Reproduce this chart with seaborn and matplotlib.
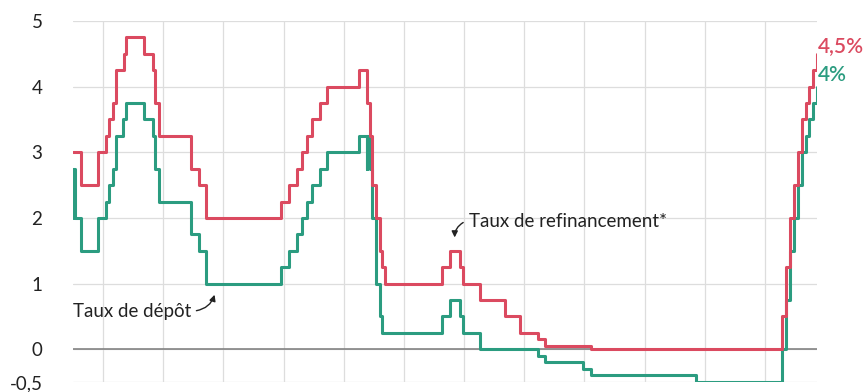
import matplotlib
matplotlib.use("Agg")
import matplotlib.pyplot as plt
import matplotlib.dates as mdates
import pandas as pd
import seaborn as sns

# ECB key interest rates (%), effective dates of each change
refi_dates = ["1999-01-01", "1999-04-09", "1999-11-05", "2000-02-04", "2000-03-17",
              "2000-04-28", "2000-06-09", "2000-09-06", "2000-10-11", "2001-05-11",
              "2001-08-31", "2001-09-18", "2001-11-09", "2002-12-06", "2003-03-07",
              "2003-06-06", "2005-12-06", "2006-03-08", "2006-06-15", "2006-08-09",
              "2006-10-11", "2006-12-13", "2007-03-14", "2007-06-13", "2008-07-09",
              "2008-10-15", "2008-11-12", "2008-12-10", "2009-01-21", "2009-03-11",
              "2009-04-08", "2009-05-13", "2011-04-13", "2011-07-13", "2011-11-09",
              "2011-12-14", "2012-07-11", "2013-05-08", "2013-11-13", "2014-06-11",
              "2014-09-10", "2016-03-16", "2022-07-27", "2022-09-14", "2022-11-02",
              "2022-12-21", "2023-02-08", "2023-03-22", "2023-05-10", "2023-06-21",
              "2023-08-02", "2023-09-20", "2023-09-25"]
refi_rates = [3.00, 2.50, 3.00, 3.25, 3.50, 3.75, 4.25, 4.50, 4.75, 4.50,
              4.25, 3.75, 3.25, 2.75, 2.50, 2.00, 2.25, 2.50, 2.75, 3.00,
              3.25, 3.50, 3.75, 4.00, 4.25, 3.75, 3.25, 2.50, 2.00, 1.50,
              1.25, 1.00, 1.25, 1.50, 1.25, 1.00, 0.75, 0.50, 0.25, 0.15,
              0.05, 0.00, 0.50, 1.25, 2.00, 2.50, 3.00, 3.50, 3.75, 4.00,
              4.25, 4.50, 4.50]

depo_dates = ["1999-01-01", "1999-01-04", "1999-01-22", "1999-04-09", "1999-11-05",
              "2000-02-04", "2000-03-17", "2000-04-28", "2000-06-09", "2000-09-01",
              "2000-10-06", "2001-05-11", "2001-08-31", "2001-09-18", "2001-11-09",
              "2002-12-06", "2003-03-07", "2003-06-06", "2005-12-06", "2006-03-08",
              "2006-06-15", "2006-08-09", "2006-10-11", "2006-12-13", "2007-03-14",
              "2007-06-13", "2008-07-09", "2008-10-08", "2008-10-09", "2008-11-12",
              "2008-12-10", "2009-01-21", "2009-03-11", "2009-04-08", "2011-04-13",
              "2011-07-13", "2011-11-09", "2011-12-14", "2012-07-11", "2014-06-11",
              "2014-09-10", "2015-12-09", "2016-03-16", "2019-09-18", "2022-07-27",
              "2022-09-14", "2022-11-02", "2022-12-21", "2023-02-08", "2023-03-22",
              "2023-05-10", "2023-06-21", "2023-08-02", "2023-09-20", "2023-09-25"]
depo_rates = [2.00, 2.75, 2.00, 1.50, 2.00, 2.25, 2.50, 2.75, 3.25, 3.50,
              3.75, 3.50, 3.25, 2.75, 2.25, 1.75, 1.50, 1.00, 1.25, 1.50,
              1.75, 2.00, 2.25, 2.50, 2.75, 3.00, 3.25, 2.75, 3.25, 2.75,
              2.00, 1.00, 0.50, 0.25, 0.50, 0.75, 0.50, 0.25, 0.00, -0.10,
              -0.20, -0.30, -0.40, -0.50, 0.00, 0.75, 1.50, 2.00, 2.50, 3.00,
              3.25, 3.50, 3.75, 4.00, 4.00]

y_ticks = [-0.5, 0, 1, 2, 3, 4, 5]
y_labels = ["-0,5", "0", "1", "2", "3", "4", "5"]
grid_years = list(range(2000, 2023, 2))

RED = "#db4a60"
GREEN = "#2b9c80"
INK = "#222222"

refi = pd.DataFrame({"date": pd.to_datetime(refi_dates), "taux": refi_rates})
depo = pd.DataFrame({"date": pd.to_datetime(depo_dates), "taux": depo_rates})

sns.set_theme(style="white")
plt.rcParams["font.family"] = ["Lato", "DejaVu Sans"]

fig = plt.figure(figsize=(8.63, 3.92), dpi=100)
ax = fig.add_axes([73 / 863, 10 / 392, 744 / 863, 361 / 392])

sns.lineplot(data=depo, x="date", y="taux", ax=ax, color=GREEN, lw=2.2,
             drawstyle="steps-post", zorder=3)
sns.lineplot(data=refi, x="date", y="taux", ax=ax, color=RED, lw=2.2,
             drawstyle="steps-post", zorder=4)

x0 = pd.Timestamp("1999-01-01")
x1 = pd.Timestamp("2023-09-25")
ax.set_xlim(x0, x1)
ax.set_ylim(-0.5, 5)

ax.set_xticks([pd.Timestamp(f"{y}-01-01") for y in grid_years])
ax.set_xticklabels([])
ax.set_yticks(y_ticks)
ax.set_yticklabels(y_labels, fontsize=13.5, color=INK)
ax.tick_params(axis="both", length=0)
ax.tick_params(axis="y", pad=22)
ax.set_xlabel("")
ax.set_ylabel("")

ax.grid(True, color="#dddddd", lw=0.9)
ax.set_axisbelow(True)
ax.axhline(0, color="#7a7a7a", lw=1.1, zorder=2)
for s in ax.spines.values():
    s.set_visible(False)


def d(s):
    return mdates.date2num(pd.Timestamp(s))


# Line labels with curved arrows
ax.annotate("", xy=(d("2011-09-10"), 1.66), xytext=(d("2012-01-20"), 1.95),
            arrowprops=dict(arrowstyle="-|>", color=INK, lw=1.0,
                            mutation_scale=9,
                            connectionstyle="arc3,rad=0.35"))
ax.text(d("2012-03-01"), 1.95, "Taux de refinancement*", fontsize=13.5,
        color=INK, ha="left", va="center")

ax.annotate("", xy=(d("2003-09-25"), 0.87), xytext=(d("2003-01-05"), 0.58),
            arrowprops=dict(arrowstyle="-|>", color=INK, lw=1.0,
                            mutation_scale=9,
                            connectionstyle="arc3,rad=0.35"))
ax.text(d("2002-12-10"), 0.58, "Taux de dépôt", fontsize=13.5,
        color=INK, ha="right", va="center")

# End-of-series values
ax.text(d("2023-10-01"), 4.62, "4,5%", fontsize=15, color=RED,
        fontweight="semibold", ha="left", va="center", clip_on=False)
ax.text(d("2023-10-01"), 4.18, "4%", fontsize=15, color=GREEN,
        fontweight="semibold", ha="left", va="center", clip_on=False)

fig.savefig("out.png", dpi=100)
